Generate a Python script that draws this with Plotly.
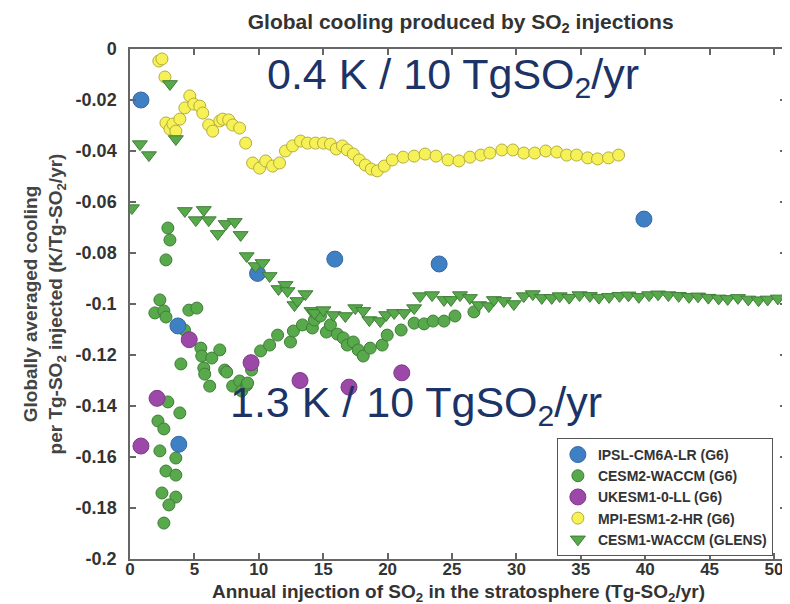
import plotly.graph_objects as go

# ---------------- data ----------------
ipsl_x = [0.85, 3.72, 3.79, 9.9, 15.9, 24.0, 39.9]
ipsl_y = [-0.020, -0.1086, -0.155, -0.088, -0.0824, -0.0843, -0.0667]

ukesm_x = [0.85, 2.1, 4.6, 9.4, 13.2, 17.0, 21.1]
ukesm_y = [-0.1557, -0.137, -0.114, -0.123, -0.130, -0.1326, -0.127]

cesm2_x = [2.94, 3.10, 2.79, 2.32, 1.93, 2.63, 2.79, 4.57, 5.19, 4.23,
           5.50, 5.57, 6.35, 6.97, 3.95, 5.73, 5.80, 7.35, 7.51, 6.19,
           7.97, 8.51, 8.67, 9.06, 9.13, 9.44, 10.14, 10.84, 11.46, 12.46,
           12.69, 13.39, 14.16, 14.32, 14.78, 15.25, 15.56, 16.10, 16.56, 16.87,
           17.34, 17.72, 18.11, 18.65, 19.58, 19.97, 21.05, 22.06, 22.83, 23.53,
           24.38, 25.23, 26.70,
           2.94, 3.87, 2.17, 2.63, 2.32, 3.56, 2.79, 3.56, 2.48, 3.56, 3.02, 2.63]
cesm2_y = [-0.0702, -0.0749, -0.0827, -0.0984, -0.1035, -0.1027, -0.1051, -0.1024, -0.1016, -0.1102,
           -0.1173, -0.1204, -0.1212, -0.1180, -0.1235, -0.1251, -0.1275, -0.1259, -0.1267, -0.1322,
           -0.1322, -0.1302, -0.1341, -0.1318, -0.1310, -0.1259, -0.1184, -0.1161, -0.1122, -0.1149,
           -0.1106, -0.1082, -0.1094, -0.1063, -0.1047, -0.1110, -0.1082, -0.1118, -0.1133, -0.1161,
           -0.1149, -0.1180, -0.1204, -0.1173, -0.1161, -0.1122, -0.1102, -0.1075, -0.1078, -0.1067,
           -0.1067, -0.1047, -0.1031,
           -0.1384, -0.1427, -0.1459, -0.1490, -0.1576, -0.1604, -0.1655, -0.1671, -0.1741, -0.1757, -0.1788, -0.1859]

mpi_x = [2.24, 2.48, 2.71, 2.79, 3.10, 3.33, 3.56, 3.87, 4.26, 4.64,
         4.95, 5.42, 5.65, 6.11, 6.42, 6.97, 7.20, 7.66, 7.97, 8.51,
         8.98, 9.52, 10.06, 10.53, 11.07, 11.61, 12.07, 12.62, 13.24, 13.78,
         14.40, 15.02, 15.56, 16.02, 16.49, 16.87, 17.34, 17.80, 18.27, 18.73,
         19.20, 19.74, 20.36, 21.21, 22.06, 22.91, 23.76, 24.69, 25.54, 26.39,
         27.24, 27.94, 28.87, 29.72, 30.57, 31.42, 32.28, 33.13, 33.90, 34.67,
         35.53, 36.30, 37.15, 37.93]
mpi_y = [-0.0047, -0.0039, -0.0110, -0.0290, -0.0314, -0.0294, -0.0322, -0.0275, -0.0231, -0.0184,
         -0.0216, -0.0224, -0.0251, -0.0298, -0.0322, -0.0282, -0.0275, -0.0278, -0.0298, -0.0310,
         -0.0369, -0.0447, -0.0467, -0.0439, -0.0459, -0.0447, -0.0400, -0.0380, -0.0361, -0.0369,
         -0.0369, -0.0369, -0.0373, -0.0392, -0.0380, -0.0396, -0.0412, -0.0435, -0.0455, -0.0471,
         -0.0478, -0.0459, -0.0435, -0.0424, -0.0420, -0.0412, -0.0420, -0.0435, -0.0439, -0.0424,
         -0.0416, -0.0408, -0.0396, -0.0396, -0.0408, -0.0408, -0.0400, -0.0404, -0.0416, -0.0416,
         -0.0427, -0.0431, -0.0427, -0.0416]

glens_x = [0.15, 0.77, 1.47, 3.10, 3.56, 4.26, 5.11, 5.73, 6.11, 6.81,
           7.43, 8.13, 8.59, 9.06, 9.75, 10.29, 10.84, 11.53, 12.07, 12.23,
           12.77, 13.00, 13.62, 14.09, 14.32, 15.02, 15.79, 16.72, 17.49, 18.11,
           18.58, 19.43, 19.89, 20.51, 21.28, 22.06, 22.52, 23.45, 24.38, 24.92,
           25.62, 26.39, 27.09, 27.86, 28.25, 29.02, 29.80, 30.57, 31.27, 31.97,
           32.74, 33.36, 34.1, 34.9, 35.7, 36.4, 37.2, 38.0, 38.7, 39.5,
           40.3, 41.0, 41.8, 42.6, 43.4, 44.1, 44.9, 45.7, 46.4, 47.2,
           48.0, 48.8, 49.5, 50.3]
glens_y = [-0.0624, -0.0373, -0.0416, -0.0137, -0.0353, -0.0635, -0.0671, -0.0631, -0.0671, -0.0725,
           -0.0686, -0.0678, -0.0729, -0.0812, -0.0851, -0.0839, -0.0890, -0.0941, -0.0925, -0.0949,
           -0.1004, -0.0988, -0.0961, -0.1027, -0.1035, -0.1024, -0.1043, -0.1047, -0.1016, -0.1027,
           -0.1063, -0.1067, -0.1043, -0.1035, -0.1035, -0.1016, -0.0969, -0.0965, -0.0984, -0.0984,
           -0.0965, -0.0976, -0.1004, -0.1008, -0.0984, -0.0988, -0.1000, -0.0969, -0.0961, -0.0976,
           -0.0976, -0.0969, -0.0975, -0.0965, -0.0968, -0.0975, -0.0972, -0.0968, -0.0966, -0.0972,
           -0.0965, -0.0962, -0.0965, -0.0968, -0.0972, -0.0970, -0.0975, -0.0978, -0.0980, -0.0976,
           -0.0982, -0.0985, -0.0982, -0.0978]

x_ticks = [0, 5, 10, 15, 20, 25, 30, 35, 40, 45, 50]
y_ticks = [0, -0.02, -0.04, -0.06, -0.08, -0.1, -0.12, -0.14, -0.16, -0.18, -0.2]
y_tick_labels = ["0", "-0.02", "-0.04", "-0.06", "-0.08", "-0.1", "-0.12", "-0.14", "-0.16", "-0.18", "-0.2"]

legend_names = ["IPSL-CM6A-LR (G6)", "CESM2-WACCM (G6)", "UKESM1-0-LL (G6)",
                "MPI-ESM1-2-HR (G6)", "CESM1-WACCM (GLENS)"]

# ---------------- figure ----------------
GREEN = "#57a94c"
GREEN_LINE = "#3f7d37"
fig = go.Figure()

def nm(i):
    return "<b>%s</b>" % legend_names[i]

fig.add_trace(go.Scatter(x=cesm2_x, y=cesm2_y, mode="markers", name=nm(1), legendrank=2,
                         marker=dict(size=12, color=GREEN, line=dict(color=GREEN_LINE, width=1))))
fig.add_trace(go.Scatter(x=mpi_x, y=mpi_y, mode="markers", name=nm(3), legendrank=4,
                         marker=dict(size=12, color="#f6f156", line=dict(color="#b5ad3c", width=1))))
fig.add_trace(go.Scatter(x=ipsl_x, y=ipsl_y, mode="markers", name=nm(0), legendrank=1,
                         marker=dict(size=16, color="#3f7fc3", line=dict(color="#3569a5", width=1))))
fig.add_trace(go.Scatter(x=ukesm_x, y=ukesm_y, mode="markers", name=nm(2), legendrank=3,
                         marker=dict(size=16, color="#9b48a8", line=dict(color="#7d3a88", width=1))))
fig.add_trace(go.Scatter(x=glens_x, y=glens_y, mode="markers", name=nm(4), legendrank=5,
                         marker=dict(size=13, symbol="triangle-down", color=GREEN,
                                     line=dict(color=GREEN_LINE, width=1))))

axis_common = dict(showgrid=False, zeroline=False, showline=True, linecolor="#666666", linewidth=1.5,
                   mirror="ticks", ticks="inside", ticklen=6, tickcolor="#666666", tickwidth=1.5)

fig.update_xaxes(range=[0, 50.93], tickvals=x_ticks,
                 ticktext=["<b>%d</b>" % v for v in x_ticks],
                 tickfont=dict(family="Arial", size=17, color="#333333"),
                 ticklabelstandoff=-6,
                 **axis_common)
fig.update_yaxes(range=[-0.2, 0], tickvals=y_ticks,
                 ticktext=["<b>%s</b>" % t for t in y_tick_labels],
                 tickfont=dict(family="Arial", size=18, color="#333333"),
                 ticklabelstandoff=8,
                 title=dict(text="<b>Globally averaged cooling<br>per Tg-SO<sub>2</sub> injected (K/Tg-SO<sub>2</sub>/yr)</b>",
                            font=dict(family="Arial", size=19, color="#444444"), standoff=8),
                 **axis_common)

fig.add_annotation(x=0.5, y=-0.066, xref="paper", yref="paper", xanchor="center", yanchor="middle",
                   showarrow=False,
                   text="<b>Annual injection of SO<sub>2</sub> in the stratosphere (Tg-SO<sub>2</sub>/yr)</b>",
                   font=dict(family="Arial", size=19, color="#333333"))

fig.add_annotation(x=25.1, y=-0.0109, xref="x", yref="y", showarrow=False,
                   text="0.4 K / 10 TgSO<sub>2</sub>/yr",
                   font=dict(family="Arial", size=43, color="#1b3366"))
fig.add_annotation(x=22.2, y=-0.1396, xref="x", yref="y", showarrow=False,
                   text="1.3 K / 10 TgSO<sub>2</sub>/yr",
                   font=dict(family="Arial", size=43, color="#1b3366"))

fig.update_layout(
    width=790, height=604,
    margin=dict(l=122, r=10, t=41, b=53),
    paper_bgcolor="white", plot_bgcolor="white",
    title=dict(text="<b>Global cooling produced by SO<sub>2</sub> injections</b>",
               x=0.573, xanchor="center", y=0.978, yanchor="middle",
               font=dict(family="Arial", size=21, color="#333333")),
    legend=dict(x=0.98, y=0.006, xanchor="right", yanchor="bottom",
                bgcolor="white", bordercolor="#555555", borderwidth=1,
                font=dict(family="Arial", size=14, color="#333333"),
                itemsizing="trace", itemwidth=30, tracegroupgap=0),
    showlegend=True,
)

fig.write_html("out.html")
